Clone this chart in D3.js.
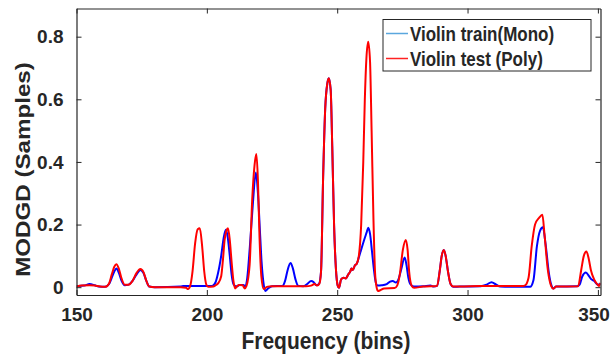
<!DOCTYPE html>
<html>
<head>
<meta charset="utf-8">
<script src="https://cdn.jsdelivr.net/npm/d3@7"></script>
<style>
  body { margin: 0; background: #fff; }
  svg text { font-family: "Liberation Sans", Arial, sans-serif; font-weight: bold; fill: #262626; }
</style>
</head>
<body>
<svg id="chart" width="610" height="356"></svg>
<script>
// Violin train (Mono) - blue
const monoBins = [150,153,155,157,158.5,161,162.5,163.5,164.5,165.3,166.3,167.3,168.5,170,171.5,173,174.5,175.7,176.8,177.9,180,190,191,200,202,203.3,204.3,205.5,206.5,207.3,208,208.8,209.5,210.3,211.5,212.5,214,214.8,215.5,216.5,217.6,218.8,219.6,220.3,221,221.7,222.4,223.5,225,229,230,231,232.1,233,234,235,237,238.5,240,241,242,243,243.8,244.6,245.4,246.2,246.8,247.5,248.1,248.8,249.5,250.2,250.7,251.5,252.5,253.3,254.2,255,255.5,256,256.8,257.5,258.3,259.2,260.3,261.3,261.9,262.6,263.4,264.1,264.8,265.5,267,269,270.3,271.3,272.5,273.5,274.5,275.9,276.6,277.3,278.2,279.5,283,285.8,287,288.3,289.3,290.1,290.9,291.6,292.5,293.5,294.5,297,305,307.3,309.2,311,312.5,318,324,325.3,326.6,327.8,328.9,329.9,331.2,332.2,332.9,334,342,343,344,345.4,346.6,347.5,348.6,349.9,351];
const monoValues = [0.003,0.005,0.01,0.006,0.002,0.001,0.01,0.03,0.05,0.06,0.045,0.02,0.006,0.008,0.02,0.04,0.055,0.045,0.02,0.002,0,0.002,0.004,0.004,0.004,0.015,0.045,0.1,0.16,0.183,0.16,0.1,0.04,0.008,0.002,0.007,0.007,0.002,0.03,0.13,0.26,0.366,0.3,0.19,0.08,0.015,-0.012,-0.004,0.003,0.004,0.02,0.055,0.077,0.06,0.025,0.005,0.003,0.01,0.02,0.016,0.006,0.01,0.05,0.35,0.57,0.65,0.667,0.63,0.45,0.2,0.06,0.005,-0.002,0.025,0.03,0.028,0.04,0.05,0.06,0.055,0.07,0.075,0.095,0.12,0.15,0.175,0.19,0.17,0.11,0.055,0.015,0.005,0.006,0.01,0.018,0.02,0.015,0.025,0.055,0.095,0.07,0.03,0.008,0.002,0.003,0.005,0.002,0.004,0.05,0.1,0.119,0.1,0.05,0.01,0.001,0.002,0.003,0.008,0.016,0.008,0.002,0.001,0.001,0.023,0.13,0.18,0.191,0.14,0.045,0.005,-0.004,0.002,0.003,0.008,0.034,0.047,0.035,0.025,0.02,0.008,0.01];

// Violin test (Poly) - red
const polyBins = [150,152,155,157,159,161,162.5,163.5,164.5,165.3,166.2,167.2,168.5,170,171.5,173,174.5,175.7,176.8,177.9,180,190,192,192.8,193.6,194.5,195.5,196.5,197.3,198.2,199,199.8,200.5,202.5,203.3,204.3,205.5,206.2,206.8,207.5,208.1,208.8,209.5,210.2,210.8,211.7,212.5,213.7,214.5,215.2,216.4,217.4,218.3,219,219.6,220.2,220.9,221.8,223,225,238,240,241.3,242.3,243.2,243.8,244.6,245.4,246.2,246.8,247.5,248.1,248.8,249.5,250.2,250.7,251.5,252.5,253.3,254.2,255,255.5,256,256.8,257.5,258.3,259.2,260,260.6,261.2,261.9,262.6,263.2,263.9,264.5,265.1,265.6,266.5,268,272,273,274,275.2,276.3,277,277.6,278.6,279.5,283,288.3,289.3,290.1,290.9,291.6,292.5,293.5,294.5,297,305,315,321,322.1,323.4,324.6,325.9,327.5,328.7,329.5,330.8,332.1,332.9,334,342.4,343.6,344.6,345.6,346.5,347.3,348.6,349.9,350.5,351];
const polyValues = [0.002,0.005,0.006,0.005,0.002,0.001,0.012,0.04,0.065,0.073,0.06,0.03,0.008,0.008,0.02,0.045,0.058,0.048,0.02,0.002,0,0,-0.002,-0.006,0.004,0.05,0.14,0.185,0.188,0.13,0.05,0.008,0.001,0.002,0.006,0.012,0.035,0.09,0.15,0.18,0.188,0.15,0.08,0.02,-0.004,0.004,0.007,0.006,-0.004,0.004,0.07,0.28,0.39,0.425,0.34,0.16,0.035,-0.006,0.001,0.003,0.003,0.005,0.01,0.005,0.012,0.05,0.35,0.57,0.65,0.667,0.63,0.45,0.2,0.06,0.005,-0.002,0.025,0.03,0.028,0.04,0.05,0.06,0.055,0.07,0.075,0.1,0.2,0.4,0.6,0.73,0.784,0.72,0.5,0.22,0.05,0,-0.012,-0.01,-0.004,-0.003,0.005,0.04,0.12,0.151,0.12,0.05,0.004,-0.002,0.002,0.004,0.05,0.1,0.119,0.1,0.05,0.01,0.002,0.002,0.004,0.004,0.004,0.006,0.03,0.13,0.2,0.222,0.231,0.17,0.055,0.003,-0.005,0.002,0.003,0.055,0.1,0.114,0.09,0.055,0.024,0.008,0.004,0.014];

const xTicks = [150, 200, 250, 300, 350];
const yTicks = [0, 0.2, 0.4, 0.6, 0.8];

const svg = d3.select('#chart');
const margin = { top: 8.5, right: 9.5, bottom: 61, left: 76.5 };
const width = 610, height = 356;
const axisColor = '#262626';

const x = d3.scaleLinear().domain([150, 351]).range([margin.left, width - margin.right]);
const y = d3.scaleLinear().domain([-0.025, 0.89]).range([height - margin.bottom, margin.top]);

svg.append('defs').append('clipPath').attr('id', 'plot-clip')
  .append('rect')
  .attr('x', margin.left).attr('y', margin.top)
  .attr('width', width - margin.left - margin.right)
  .attr('height', height - margin.top - margin.bottom);

const line = d3.line()
  .x(d => x(d[0]))
  .y(d => y(d[1]))
  .curve(d3.curveMonotoneX);

const plot = svg.append('g').attr('clip-path', 'url(#plot-clip)');

plot.append('path')
  .datum(d3.zip(monoBins, monoValues))
  .attr('fill', 'none')
  .attr('stroke', '#0000ff')
  .attr('stroke-width', 2)
  .attr('d', line);

plot.append('path')
  .datum(d3.zip(polyBins, polyValues))
  .attr('fill', 'none')
  .attr('stroke', '#ff0000')
  .attr('stroke-width', 2)
  .attr('d', line);

// axes (box with inward ticks on all sides)
const xAxisBottom = svg.append('g')
  .attr('transform', `translate(0,${height - margin.bottom})`)
  .call(d3.axisBottom(x).tickValues(xTicks).tickSizeInner(-5).tickSizeOuter(0).tickPadding(13));
const xAxisTop = svg.append('g')
  .attr('transform', `translate(0,${margin.top})`)
  .call(d3.axisTop(x).tickValues(xTicks).tickSizeInner(-5).tickSizeOuter(0).tickFormat(''));
const yAxisLeft = svg.append('g')
  .attr('transform', `translate(${margin.left},0)`)
  .call(d3.axisLeft(y).tickValues(yTicks).tickSizeInner(-5).tickSizeOuter(0).tickPadding(13)
    .tickFormat(d => d === 0 ? '0' : d3.format('.1f')(d)));
const yAxisRight = svg.append('g')
  .attr('transform', `translate(${width - margin.right},0)`)
  .call(d3.axisRight(y).tickValues(yTicks).tickSizeInner(-5).tickSizeOuter(0).tickFormat(''));

[xAxisBottom, xAxisTop, yAxisLeft, yAxisRight].forEach(g => {
  g.select('.domain').attr('stroke', axisColor).attr('stroke-width', 1.2);
  g.selectAll('.tick line').attr('stroke', axisColor);
  g.selectAll('.tick text').attr('font-size', 19).attr('fill', axisColor)
    .style('font-family', '"Liberation Sans", Arial, sans-serif').style('font-weight', 'bold');
});

// last x label sits against the figure edge, keep it inside
xAxisBottom.selectAll('.tick text')
  .filter(d => d === 350)
  .attr('text-anchor', 'end')
  .attr('dx', 11.5);

// axis labels
svg.append('text')
  .attr('transform', `translate(326,349) scale(1,1.18)`)
  .attr('text-anchor', 'middle')
  .attr('font-size', 21)
  .text('Frequency (bins)');

svg.append('text')
  .attr('transform', `translate(30,169.5) rotate(-90) scale(1.15,1)`)
  .attr('text-anchor', 'middle')
  .attr('font-size', 21)
  .text('MODGD (Samples)');

// legend
const legendItems = [
  { label: 'Violin train(Mono)', color: '#5aa7de' },
  { label: 'Violin test (Poly)', color: '#ff2222' }
];
const legend = svg.append('g');
legend.append('rect')
  .attr('x', 383).attr('y', 19.5).attr('width', 208).attr('height', 51.5)
  .attr('fill', '#fff').attr('stroke', axisColor).attr('stroke-width', 1);
legendItems.forEach((item, i) => {
  const cy = 33.5 + i * 25;
  legend.append('line')
    .attr('x1', 386).attr('x2', 408).attr('y1', cy).attr('y2', cy)
    .attr('stroke', item.color).attr('stroke-width', 1.5);
  legend.append('text')
    .attr('transform', `translate(410,${cy + 7}) scale(1,1.2)`)
    .attr('font-size', 17)
    .text(item.label);
});
</script>
</body>
</html>
